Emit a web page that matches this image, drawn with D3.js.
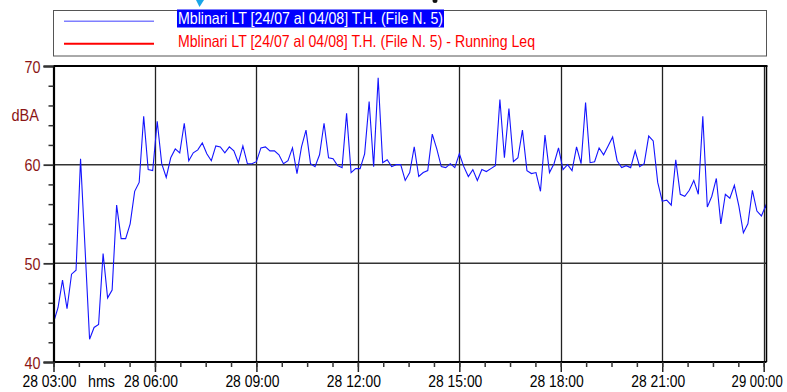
<!DOCTYPE html>
<html><head><meta charset="utf-8">
<script src="https://cdn.jsdelivr.net/npm/d3@7"></script>
<style>body{margin:0;background:#fff;overflow:hidden} svg{display:block}</style>
</head><body><svg id="c" width="787" height="392"></svg>
<script>
// ---- data ----
const startTime = "2024-07-28T03:00:00Z";
const endTime = "2024-07-29T00:05:00Z";
const stepMinutes = 8;
const levels = [
  44.0, 45.5, 48.3, 45.4, 48.9, 49.3, 60.6, 51.5, 42.3, 43.5,
  43.8, 51.0, 46.5, 47.3, 55.9, 52.5, 52.5, 54.0, 57.3, 58.2,
  64.9, 59.5, 59.4, 64.4, 60.1, 58.7, 60.7, 61.6, 61.2, 64.2,
  60.4, 61.2, 61.5, 62.2, 61.1, 60.4, 61.9, 61.8, 61.2, 61.8,
  61.4, 60.2, 61.9, 60.1, 60.1, 60.3, 61.7, 61.8, 61.4, 61.4,
  61.0, 60.1, 60.4, 61.7, 59.1, 61.8, 63.5, 60.1, 59.8, 61.0,
  64.2, 60.7, 60.6, 59.9, 59.7, 65.2, 59.2, 59.6, 59.6, 61.1,
  66.4, 59.8, 68.8, 60.2, 60.5, 59.8, 60.0, 60.0, 58.4, 59.2,
  61.8, 58.8, 59.2, 59.4, 63.1, 61.6, 59.8, 59.7, 60.1, 59.7,
  61.1, 59.8, 58.8, 59.5, 58.4, 59.5, 59.3, 59.6, 59.9, 66.6,
  60.7, 65.7, 60.3, 60.7, 63.5, 59.4, 59.1, 59.2, 57.3, 63.0,
  59.2, 60.1, 61.7, 59.5, 60.0, 59.4, 61.8, 60.1, 66.3, 60.2,
  60.3, 61.7, 61.0, 61.9, 62.8, 60.4, 59.7, 59.9, 59.7, 61.4,
  59.8, 60.1, 62.9, 62.4, 58.2, 56.3, 56.4, 55.9, 60.5, 57.0,
  56.8, 57.4, 58.4, 57.0, 64.9, 55.7, 56.8, 58.6, 54.0, 57.0,
  56.6, 57.9, 55.8, 53.1, 54.0, 57.4, 55.3, 54.8, 55.9, 52.8
];
const yTicks = [40, 50, 60, 70];
const yMinorTicks = [42, 44, 46, 48, 52, 54, 56, 58, 62, 64, 66, 68];
const xTickLabels = ["28 03:00", "28 06:00", "28 09:00", "28 12:00", "28 15:00", "28 18:00", "28 21:00", "29 00:00"];
const xMajorStepHours = 3;
const xMinorStepMinutes = 45;
const seriesNames = [
  "Mblinari LT [24/07 al 04/08] T.H. (File N. 5)",
  "Mblinari LT [24/07 al 04/08] T.H. (File N. 5) - Running Leq"
];
const yUnit = "dBA";
const xUnit = "hms";

// ---- layout ----
const L = 53.5, R = 766.5, T = 66, B = 362;
const svg = d3.select("#c");
const font = "'Liberation Sans', Arial, sans-serif";
const t0 = new Date(startTime), t1 = new Date(endTime);
const x = d3.scaleUtc().domain([t0, t1]).range([L, R]);
const y = d3.scaleLinear().domain([40, 70]).range([B, T]);

const data = levels.map((v, i) => ({t: new Date(t0.getTime() + i * stepMinutes * 60000), v}));
const majorDates = xTickLabels.map((_, i) => new Date(t0.getTime() + i * xMajorStepHours * 3600000));
const minorDates = d3.range(0, 21 * 60 + 1, xMinorStepMinutes).map(m => new Date(t0.getTime() + m * 60000));

// decorations at top (cut-off elements)
svg.append("path").attr("d", "M196,0 L204,0 L199.5,7 Z").attr("fill", "#1aa6e8");
svg.append("ellipse").attr("cx", 435).attr("cy", 1).attr("rx", 2.5).attr("ry", 2).attr("fill", "#111");

// legend
const lg = svg.append("g");
lg.append("rect").attr("x", 53.5).attr("y", 10.5).attr("width", 713).attr("height", 45.5)
  .attr("fill", "none").attr("stroke", "#555").attr("stroke-width", 1);
lg.append("line").attr("x1", 64).attr("x2", 154).attr("y1", 21.3).attr("y2", 21.3)
  .attr("stroke", "#7f7fff").attr("stroke-width", 1.5);
lg.append("line").attr("x1", 64).attr("x2", 154).attr("y1", 43.7).attr("y2", 43.7)
  .attr("stroke", "#ff0000").attr("stroke-width", 2);
lg.append("rect").attr("x", 177).attr("y", 9.5).attr("width", 267).attr("height", 18).attr("fill", "#0000ff");
lg.append("text").attr("x", 178).attr("y", 24).attr("fill", "#fff").attr("font-family", font).attr("font-size", 16.5)
  .attr("textLength", 265).attr("lengthAdjust", "spacingAndGlyphs").text(seriesNames[0]);
lg.append("text").attr("x", 178).attr("y", 46.5).attr("fill", "#ff0000").attr("font-family", font).attr("font-size", 16.5)
  .attr("textLength", 357).attr("lengthAdjust", "spacingAndGlyphs").text(seriesNames[1]);

// grid
const grid = svg.append("g");
grid.selectAll("line.v").data(majorDates.slice(1)).join("line")
  .attr("x1", d => Math.round(x(d)) + 0.5).attr("x2", d => Math.round(x(d)) + 0.5)
  .attr("y1", T).attr("y2", B).attr("stroke", "#222").attr("stroke-width", 1.3);
grid.selectAll("line.h").data(yTicks.filter(d => d > 40 && d < 70)).join("line")
  .attr("x1", L).attr("x2", R).attr("y1", d => y(d)).attr("y2", d => y(d))
  .attr("stroke", "#333").attr("stroke-width", 1.5);

// clip + line
svg.append("clipPath").attr("id", "clip").append("rect").attr("x", L).attr("y", T).attr("width", R - L).attr("height", B - T);
svg.append("path").datum(data).attr("clip-path", "url(#clip)")
  .attr("fill", "none").attr("stroke", "#1414ff").attr("stroke-width", 1.1).attr("stroke-linejoin", "miter")
  .attr("d", d3.line().x(d => x(d.t)).y(d => y(d.v)));

// frame
svg.append("line").attr("x1", L).attr("x2", R + 1).attr("y1", T).attr("y2", T).attr("stroke", "#000").attr("stroke-width", 2);
svg.append("line").attr("x1", R).attr("x2", R).attr("y1", T).attr("y2", B).attr("stroke", "#000").attr("stroke-width", 1.5);

// y axis
const yAxis = svg.append("g").attr("transform", `translate(${L},0)`)
  .call(d3.axisLeft(y).tickValues(yTicks).tickSize(10).tickFormat(d3.format("d")));
yAxis.select(".domain").attr("stroke", "#000").attr("stroke-width", 2.2);
yAxis.selectAll(".tick line").attr("stroke", "#333").attr("stroke-width", 1.8);
yAxis.selectAll(".tick text").attr("fill", "#8b1515").attr("font-family", font).attr("font-size", 17)
  .attr("x", -13).attr("dy", "0.36em").attr("textLength", 16).attr("lengthAdjust", "spacingAndGlyphs");
svg.append("g").attr("transform", `translate(${L},0)`)
  .call(d3.axisLeft(y).tickValues(yMinorTicks).tickSize(5).tickFormat(""))
  .call(g => g.select(".domain").remove())
  .selectAll(".tick line").attr("stroke", "#333").attr("stroke-width", 1.5);
svg.append("text").attr("x", 11.5).attr("y", 120.5).attr("fill", "#8b1515").attr("font-family", font)
  .attr("font-size", 16.5).attr("textLength", 27.5).attr("lengthAdjust", "spacingAndGlyphs").text(yUnit);

// x axis
const xAxis = svg.append("g").attr("transform", `translate(0,${B})`)
  .call(d3.axisBottom(x).tickValues(majorDates).tickSize(10).tickFormat((d, i) => xTickLabels[i]));
xAxis.select(".domain").attr("stroke", "#000").attr("stroke-width", 2.2).attr("d", `M${L},0H${R}`);
xAxis.selectAll(".tick line").attr("stroke", "#222").attr("stroke-width", 1.5);
xAxis.selectAll(".tick text").attr("fill", "#000").attr("font-family", font).attr("font-size", 16)
  .attr("y", 24.5).attr("dy", 0).attr("x", -4.5).attr("textLength", 54).attr("lengthAdjust", "spacingAndGlyphs");
xAxis.selectAll(".tick text").filter((d, i) => i === xTickLabels.length - 1)
  .attr("text-anchor", "end").attr("x", 0).attr("y", 0).attr("textLength", null).attr("lengthAdjust", null)
  .attr("transform", "translate(18.5,24.5) scale(0.82,1)");
svg.append("g").attr("transform", `translate(0,${B})`)
  .call(d3.axisBottom(x).tickValues(minorDates).tickSize(5).tickFormat(""))
  .call(g => g.select(".domain").remove())
  .selectAll(".tick line").attr("stroke", "#333").attr("stroke-width", 1.5);
svg.append("text").attr("x", 88).attr("y", 386.5).attr("fill", "#000").attr("font-family", font)
  .attr("font-size", 16).attr("textLength", 27).attr("lengthAdjust", "spacingAndGlyphs").text(xUnit);
</script>
</body></html>
